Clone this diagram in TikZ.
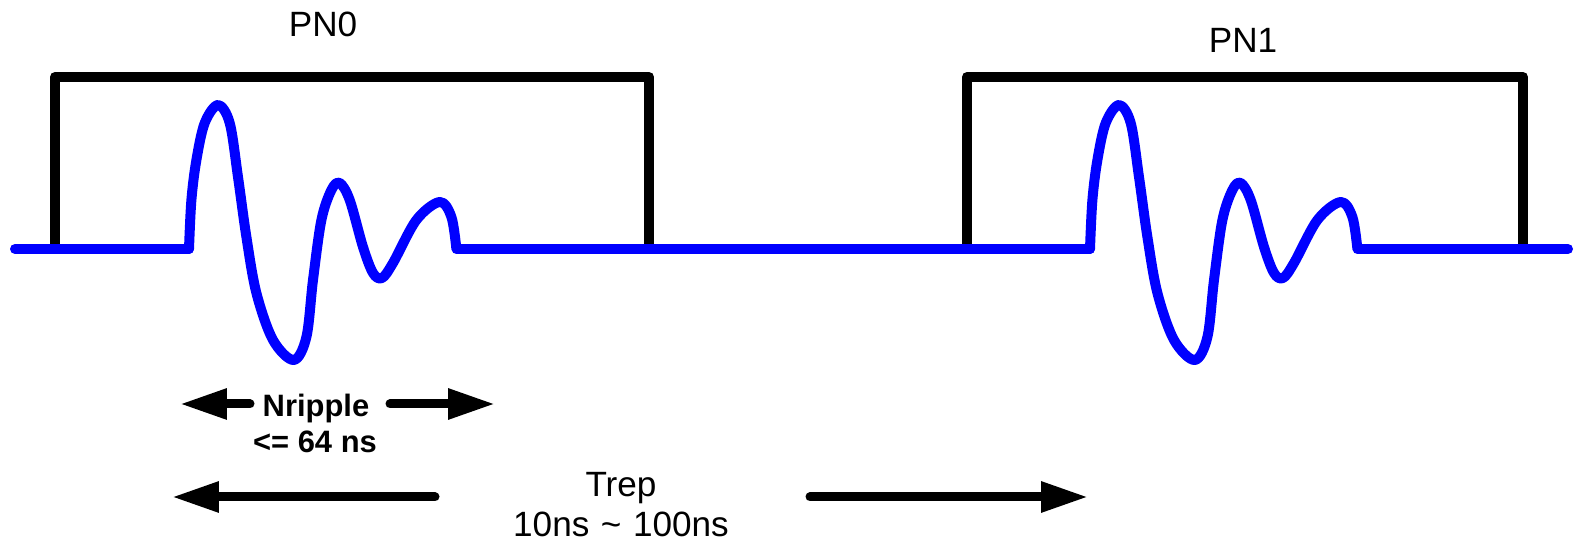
\documentclass[tikz,border=0pt]{standalone}
\usepackage{fontspec}
\setmainfont{Liberation Sans}
\usetikzlibrary{arrows.meta}

\begin{document}
\begin{tikzpicture}[x=0.02cm, y=0.02cm, line join=round,
    gate/.style={line width=0.2cm, black},
    signal/.style={line width=0.2cm, blue, line cap=round},
    span/.style={line width=0.18cm, line cap=round, -{Triangle[length=0.94cm, width=0.58cm]}},
    lbl/.style={font=\fontsize{20}{24}\selectfont, anchor=base, inner sep=0pt},
    blbl/.style={font=\fontsize{17.6}{21}\selectfont\bfseries, anchor=base, inner sep=0pt}]
  \useasboundingbox (0,0) rectangle (1576,543);

  % gate windows
  \draw[gate] (55,294) |- (649,466) -- (649,294);
  \draw[gate] (967,294) |- (1523,466) -- (1523,294);

  % baseline and ripples
  \draw[signal] (15,294) -- (189,294);
  \draw[signal] (457,294) -- (1090,294);
  \draw[signal] (1358,294) -- (1568,294);
  \foreach \s in {189,1090} {
    \draw[signal, shift={(\s,0)}] plot[smooth, tension=0.55] coordinates {
      (0,294) (2.4,343) (7.4,383) (15.7,420) (29,438) (40.7,420) (49,366)
      (57.4,306) (67.4,250) (84,203) (104.7,183) (117.4,206) (124,263)
      (132.4,323) (142.4,353) (150.7,360) (160.7,343) (174,296) (184,270)
      (193,265) (204,280) (227.4,323) (250.7,341) (262.4,326) (267.4,294)};
  }

  \node[lbl] (pn0) at (323,506) {PN0};
  \node[lbl] (pn1) at (1243,490) {PN1};

  % ripple length
  \coordinate (nl) at (250,139);
  \coordinate (nlt) at (180,139);
  \coordinate (nr) at (390,139);
  \coordinate (nrt) at (495,139);
  \draw[span] (nl) -- (nlt);
  \draw[span] (nr) -- (nrt);
  \node[blbl] (nrip) at (316,126) {Nripple};
  \node[blbl] (nmax) at (315,90) {<= 64 ns};

  % repetition period
  \coordinate (tl) at (435,46);
  \coordinate (tlt) at (172,46);
  \coordinate (tr) at (810,46);
  \coordinate (trt) at (1088,46);
  \draw[span] (tl) -- (tlt);
  \draw[span] (tr) -- (trt);
  \node[lbl] (trep) at (621,46) {Trep};
  \node[lbl] (trange) at (621,6) {10ns\hspace{0.33em}\textasciitilde\hspace{0.33em}100ns};
\end{tikzpicture}
\end{document}
